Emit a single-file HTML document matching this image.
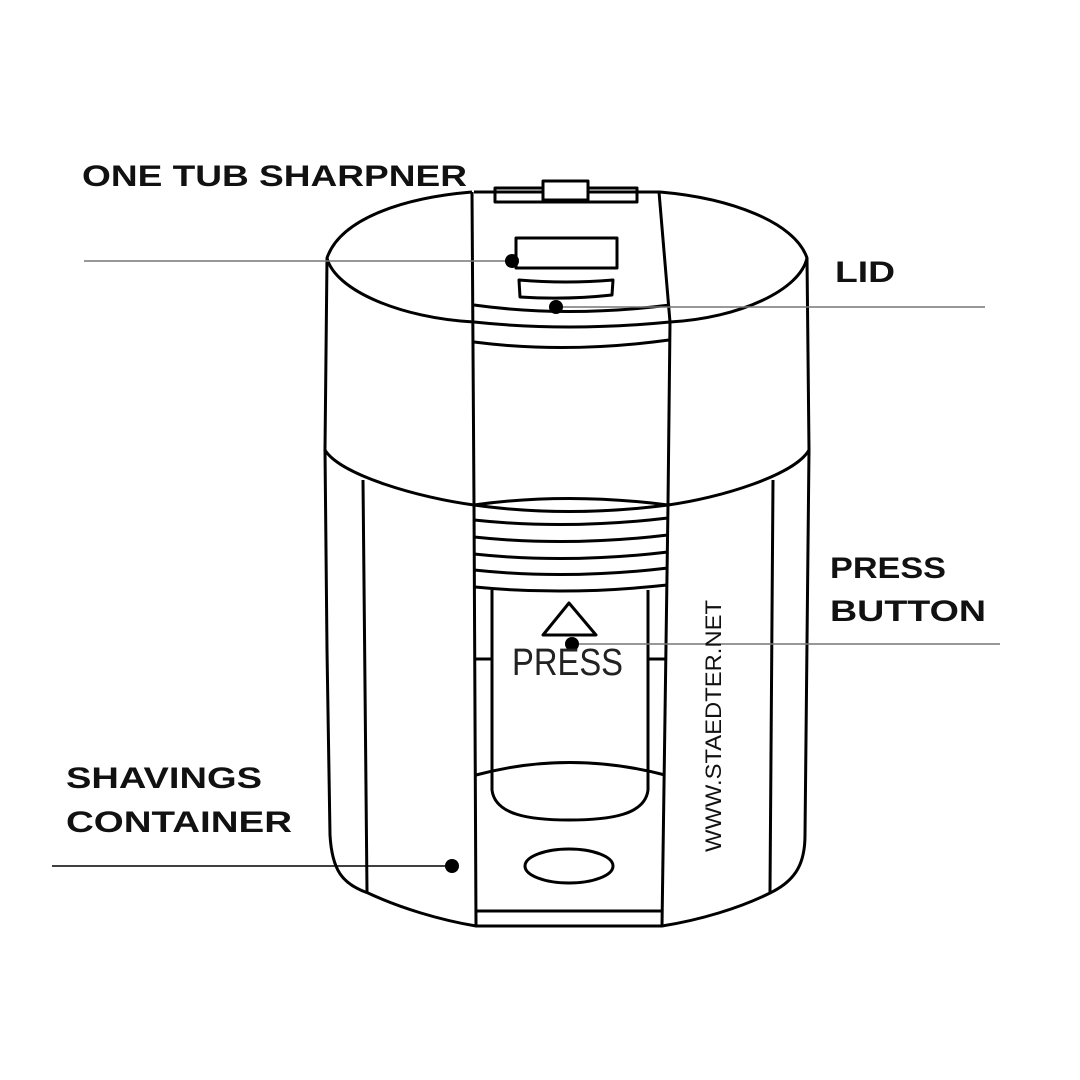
<!DOCTYPE html>
<html><head><meta charset="utf-8"><style>
html,body{margin:0;padding:0;background:#fff}
svg{display:block}
text{font-family:"Liberation Sans",sans-serif}
</style></head><body>
<svg width="1080" height="1080" viewBox="0 0 1080 1080" xmlns="http://www.w3.org/2000/svg">
<rect width="1080" height="1080" fill="#fff"/>
<g fill="none" stroke="#000" stroke-width="3" stroke-linejoin="round">
<path d="M472,192 C400,198 340,220 327,258 C335,290 400,318 474,322"/>
<path d="M660,192 C730,198 795,222 807,258 C800,290 740,318 670,322"/>
<path d="M474,192 L660,192"/>
<path d="M474,322 Q567,332 670,322"/>
<path d="M327,258 L325,450"/>
<path d="M807,258 L809,450"/>
<path d="M325,450 C340,475 420,498 474,505"/>
<path d="M809,450 C795,475 720,498 668,505"/>
<path d="M472,192 L474,505 L476,926"/>
<path d="M659,192 L670,322 L668,505 L662,926"/>
<path d="M474,305 Q567,318 670,305"/>
<path d="M474,342 Q567,354 669,340"/>
<rect x="495" y="188" width="142" height="14"/>
<rect x="543" y="181" width="45" height="19" fill="#fff"/>
<rect x="516" y="238" width="101" height="30"/>
<path d="M519,280 Q566,284 613,280 L612,295 Q566,300 520,297 Z"/>
<path d="M325,450 L327,650 L330,835 C332,870 342,884 368,893 C400,908 440,920 476,926 L662,926 C700,920 740,908 770,893 C797,880 805,862 805,835 L809,450"/>
<path d="M363,480 L367,892"/>
<path d="M773,480 L770,892"/>
<path d="M474,505 Q567,492 668,505"/>
<path d="M474,505 Q567,518 668,505"/>
<path d="M474,520 Q567,530 668,518"/>
<path d="M474,537 Q567,547 668,535"/>
<path d="M474,554 Q567,564 668,552"/>
<path d="M474,570 Q567,580 668,568"/>
<path d="M475,587 Q567,596 667,585"/>
<path d="M492,590 L492,790 C495,815 530,820 569,820 C610,820 645,815 648,790 L648,590"/>
<path d="M476,659 L492,659 M648,659 L666,659"/>
<path d="M476,775 Q569,750 665,775"/>
<ellipse cx="569" cy="866" rx="44" ry="17"/>
<path d="M476,911 L662,911"/>
<path d="M543,635 L569,603 L596,635 Z"/>
</g>
<g stroke="#777" stroke-width="1.5">
<line x1="84" y1="261" x2="512" y2="261"/>
<line x1="556" y1="307" x2="985" y2="307"/>
<line x1="572" y1="644" x2="1000" y2="644"/>
</g>
<line x1="52" y1="866" x2="452" y2="866" stroke="#000" stroke-width="1.5"/>
<g fill="#000">
<circle cx="512" cy="261" r="7"/>
<circle cx="556" cy="307" r="7"/>
<circle cx="572" cy="644" r="7"/>
<circle cx="452" cy="866" r="7"/>
</g>
<text x="512" y="675" font-size="38" textLength="111" lengthAdjust="spacingAndGlyphs" fill="#222">PRESS</text>
<text transform="translate(721,852) rotate(-90)" font-size="22" textLength="252" lengthAdjust="spacingAndGlyphs" fill="#111">WWW.STAEDTER.NET</text>
<g font-weight="bold" font-size="30" fill="#111">
<text x="82" y="186" textLength="385" lengthAdjust="spacingAndGlyphs">ONE TUB SHARPNER</text>
<text x="835" y="282" textLength="60" lengthAdjust="spacingAndGlyphs">LID</text>
<text x="830" y="578" textLength="116" lengthAdjust="spacingAndGlyphs">PRESS</text>
<text x="830" y="621" textLength="156" lengthAdjust="spacingAndGlyphs">BUTTON</text>
<text x="66" y="788" textLength="196" lengthAdjust="spacingAndGlyphs">SHAVINGS</text>
<text x="66" y="832" textLength="226" lengthAdjust="spacingAndGlyphs">CONTAINER</text>
</g>
</svg>
</body></html>
